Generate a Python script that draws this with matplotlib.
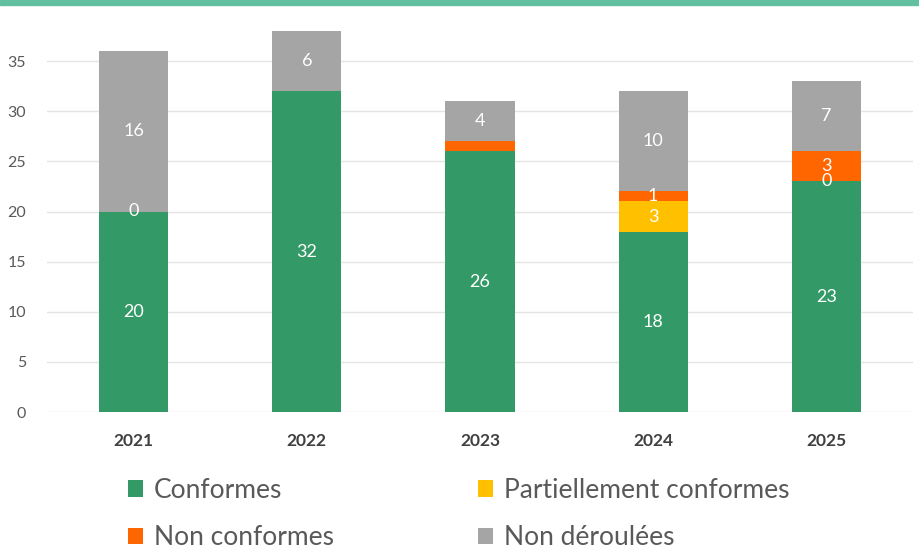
import numpy as np
import matplotlib.pyplot as plt
from matplotlib.patches import Rectangle

years = ["2021", "2022", "2023", "2024", "2025"]
conformes = [20, 32, 26, 18, 23]
partiel = [0, np.nan, np.nan, 3, 0]
non_conformes = [np.nan, np.nan, 1, 1, 3]
non_deroulees = [16, 6, 4, 10, 7]

conformes_lbl = ["20", "32", "26", "18", "23"]
partiel_lbl = ["0", "", "", "3", "0"]
nc_lbl = ["", "", "", "1", "3"]
nd_lbl = ["16", "6", "4", "10", "7"]

series = [
    ("Conformes", conformes, conformes_lbl, "#339966"),
    ("Partiellement conformes", partiel, partiel_lbl, "#FFC000"),
    ("Non conformes", non_conformes, nc_lbl, "#FF6600"),
    ("Non déroulées", non_deroulees, nd_lbl, "#A5A5A5"),
]

plt.rcParams['font.family'] = ['Lato', 'DejaVu Sans']

fig = plt.figure(figsize=(9.2, 5.49), dpi=100)
ax = fig.add_axes([47/920, 1 - 412/549, (913-47)/920, (412-11)/549])

x = np.arange(len(years))
bottom = np.zeros(len(years))
handles = []
for name, vals, lbls, col in series:
    v = np.nan_to_num(np.array(vals, dtype=float))
    b = ax.bar(x, v, width=0.4, bottom=bottom, color=col, edgecolor="none",
               label=name, zorder=2)
    handles.append(b)
    for i, (val, lb) in enumerate(zip(v, lbls)):
        if lb:
            ax.text(x[i], bottom[i] + val / 2, lb, ha="center", va="center",
                    color="white", fontsize=13, zorder=3)
    bottom += v

ax.set_xlim(-0.5, 4.5)
ax.set_ylim(0, 40)
ax.set_yticks(range(0, 36, 5))
ax.set_xticks(x)
ax.set_xticklabels(years, fontsize=12.5, fontweight="bold", color="#404040")
ax.tick_params(axis="y", labelsize=11.5, colors="#595959", length=0, pad=15)
ax.tick_params(axis="x", length=0, pad=15)
ax.grid(axis="y", color="#E4E4E4", linewidth=1, zorder=0)
for s in ax.spines.values():
    s.set_visible(False)

fig.patches.append(Rectangle((0, 1 - 5/549), 1, 5/549, transform=fig.transFigure,
                             color="#62BFA0", zorder=5))

order = [0, 2, 1, 3]
fig.legend(handles=[handles[i] for i in order], loc="center left", ncol=2,
           bbox_to_anchor=(104/920, 1 - 514/549), frameon=False,
           fontsize=19, labelcolor="#595959", handlelength=0.58, handleheight=0.58,
           handletextpad=0.42, columnspacing=5.45, labelspacing=0.85)

fig.savefig("out.png", dpi=100)
